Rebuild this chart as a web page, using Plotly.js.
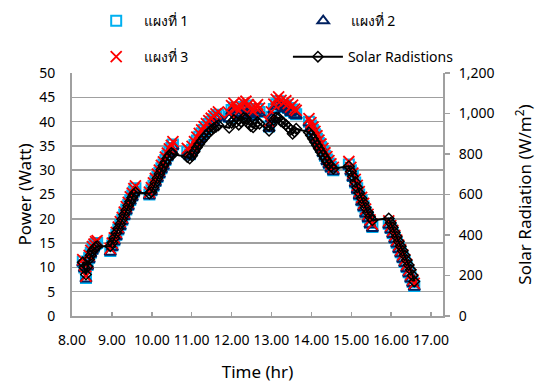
<!DOCTYPE html>
<html>
<head>
<meta charset="utf-8">
<script src="https://cdn.plot.ly/plotly-3.0.1.min.js"></script>
<style>
  html, body { margin: 0; padding: 0; background: #fff; }
  #chart { width: 549px; height: 383px; }
</style>
</head>
<body>
<div id="chart"></div>
<script>
// Measurement times (decimal hours), one block per measuring session
const time = [
  8.27, 8.31, 8.35, 8.39, 8.43, 8.47, 8.51, 8.55, 8.59, 8.63,
  8.96, 9.01, 9.06, 9.11, 9.16, 9.21, 9.26, 9.31, 9.36, 9.41, 9.46, 9.51, 9.55, 9.59,
  9.94, 9.99, 10.04, 10.09, 10.14, 10.19, 10.24, 10.29, 10.34, 10.39, 10.44, 10.49, 10.53,
  10.89, 10.95, 11.01, 11.07, 11.13, 11.19, 11.25, 11.31, 11.37, 11.43, 11.49, 11.55, 11.61, 11.67,
  11.94, 12.00, 12.06, 12.12, 12.18, 12.24, 12.30, 12.36, 12.42, 12.48, 12.54, 12.60, 12.65, 12.70,
  12.94, 13.00, 13.06, 13.12, 13.18, 13.24, 13.30, 13.36, 13.42, 13.48, 13.53, 13.58, 13.62,
  13.94, 13.99, 14.04, 14.09, 14.14, 14.19, 14.24, 14.29, 14.34, 14.39, 14.44, 14.49, 14.55,
  14.94, 14.99, 15.04, 15.10, 15.15, 15.20, 15.26, 15.31, 15.36, 15.42, 15.47, 15.53,
  15.94, 15.99, 16.04, 16.09, 16.14, 16.19, 16.24, 16.29, 16.34, 16.39, 16.44, 16.49, 16.54, 16.58
];

// Panel output power (W)
const panel1 = [
  11.2, 10.0, 7.8, 10.5, 12.0, 13.0, 13.8, 14.3, 14.8, 15.0,
  13.4, 14.5, 15.6, 16.7, 17.8, 18.8, 19.8, 20.9, 21.9, 22.9, 23.9, 24.8, 25.6, 26.3,
  25.0, 25.9, 26.8, 27.8, 28.6, 29.5, 30.4, 31.2, 32.1, 33.0, 33.8, 34.6, 35.3,
  33.8, 33.3, 34.2, 35.2, 36.1, 36.9, 37.6, 38.3, 38.9, 39.5, 40.0, 40.5, 41.0, 41.4,
  41.0, 42.4, 42.9, 42.0, 41.4, 42.2, 43.0, 43.3, 42.6, 41.8, 41.3, 42.0, 42.6, 42.0,
  39.0, 41.0, 42.6, 43.6, 44.2, 43.5, 43.0, 43.4, 42.8, 42.2, 42.5, 41.8, 41.5,
  40.0, 39.2, 38.3, 37.4, 36.5, 35.6, 34.8, 33.9, 33.0, 32.2, 31.4, 30.7, 30.0,
  31.2, 30.0, 28.8, 27.5, 26.3, 25.0, 23.8, 22.6, 21.4, 20.3, 19.2, 18.3,
  19.0, 18.1, 17.1, 16.1, 15.1, 14.1, 13.1, 12.1, 11.1, 10.1, 9.0, 8.0, 7.0, 6.2
];
const panel2 = [
  10.9, 9.7, 7.6, 10.2, 11.6, 12.7, 13.4, 14.0, 14.5, 14.7,
  13.1, 14.1, 15.3, 16.3, 17.5, 18.4, 19.5, 20.5, 21.6, 22.5, 23.6, 24.4, 25.3, 25.9,
  24.7, 25.5, 26.5, 27.4, 28.3, 29.1, 30.1, 30.8, 31.8, 32.6, 33.5, 34.2, 34.9,
  33.4, 32.9, 33.9, 34.8, 35.8, 36.5, 37.3, 37.9, 38.6, 39.1, 39.7, 40.1, 40.7, 41.0,
  40.6, 42.0, 42.5, 41.7, 41.0, 41.8, 42.7, 42.9, 42.3, 41.4, 40.9, 41.7, 42.2, 41.7,
  38.6, 40.6, 42.3, 43.2, 43.8, 43.1, 42.7, 43.0, 42.4, 41.9, 42.1, 41.4, 41.2,
  39.7, 38.8, 38.0, 37.0, 36.2, 35.2, 34.5, 33.5, 32.7, 31.8, 31.1, 30.3, 29.7,
  30.8, 29.7, 28.4, 27.2, 25.9, 24.7, 23.4, 22.3, 21.0, 20.0, 18.8, 18.0,
  18.7, 17.7, 16.8, 15.7, 14.8, 13.7, 12.8, 11.7, 10.8, 9.7, 8.7, 7.6, 6.7, 5.9
];
const panel3 = [
  11.6, 10.5, 8.2, 11.0, 12.5, 13.5, 14.3, 14.8, 15.3, 15.5,
  13.9, 15.0, 16.1, 17.2, 18.3, 19.4, 20.3, 21.4, 22.5, 23.4, 24.5, 25.3, 26.2, 26.8,
  25.5, 26.4, 27.4, 28.3, 29.2, 30.0, 31.0, 31.7, 32.7, 33.5, 34.4, 35.1, 35.9,
  34.5, 34.0, 34.9, 35.9, 36.8, 37.6, 38.3, 39.0, 39.6, 40.2, 40.7, 41.2, 41.6, 42.0,
  41.8, 43.3, 43.8, 42.9, 42.2, 43.1, 43.9, 44.2, 43.5, 42.6, 42.1, 42.9, 43.5, 42.8,
  40.0, 42.0, 43.6, 44.6, 45.1, 44.4, 43.9, 44.3, 43.7, 43.0, 43.4, 42.6, 42.3,
  40.6, 39.8, 38.9, 38.0, 37.1, 36.2, 35.4, 34.5, 33.6, 32.8, 32.0, 31.3, 30.6,
  31.8, 30.6, 29.4, 28.1, 26.9, 25.6, 24.4, 23.2, 22.0, 20.9, 19.8, 18.9,
  19.6, 18.6, 17.6, 16.6, 15.6, 14.6, 13.6, 12.6, 11.6, 10.6, 9.5, 8.5, 7.5, 6.7
];

// Solar radiation (W/m2)
const radiation = [
  265, 240, 205, 245, 280, 300, 320, 330, 340, 345,
  345, 362, 385, 410, 432, 455, 478, 500, 522, 545, 565, 585, 600, 610,
  605, 612, 635, 658, 680, 702, 722, 742, 760, 778, 792, 805, 800,
  785, 778, 792, 812, 832, 850, 866, 880, 894, 906, 917, 927, 935, 942,
  930, 955, 968, 958, 945, 960, 978, 975, 952, 938, 932, 948, 958, 950,
  915, 945, 968, 980, 978, 962, 955, 945, 932, 920, 900, 910, 925,
  907, 892, 875, 860, 843, 826, 810, 795, 780, 765, 750, 738, 728,
  740, 715, 690, 662, 635, 608, 582, 558, 535, 512, 490, 473,
  482, 460, 438, 414, 392, 368, 345, 322, 300, 276, 252, 228, 200, 170
];

const seriesNames = ['แผงที่ 1', 'แผงที่ 2', 'แผงที่ 3', 'Solar Radistions'];

const FONT = 'Noto Sans, Tahoma, sans-serif';
const GRID = '#A0A0A0';

const traces = [
  {
    x: time, y: panel1, name: seriesNames[0], type: 'scatter', mode: 'markers',
    legend: 'legend',
    marker: { symbol: 'square-open', size: 10, color: '#00B0F0', line: { width: 2, color: '#00B0F0' } }
  },
  {
    x: time, y: panel2, name: seriesNames[1], type: 'scatter', mode: 'markers',
    legend: 'legend2',
    marker: { symbol: 'triangle-up-open', size: 10, color: '#002060', line: { width: 2, color: '#002060' } }
  },
  {
    x: time, y: panel3, name: seriesNames[2], type: 'scatter', mode: 'markers',
    legend: 'legend3',
    marker: { symbol: 'x-thin-open', size: 11, color: '#FF0000', line: { width: 1.8, color: '#FF0000' } }
  },
  {
    x: time, y: radiation, name: seriesNames[3], type: 'scatter', mode: 'lines+markers',
    yaxis: 'y2', legend: 'legend4',
    line: { color: '#000000', width: 2 },
    marker: { symbol: 'diamond-open', size: 8, color: '#000000', line: { width: 1.5, color: '#000000' } }
  }
];

// Each legend entry sits in its own box so the two rows can be spaced freely
function legendAt(x, y, itemwidth) {
  return {
    x: x, y: y, xref: 'paper', yref: 'container',
    xanchor: 'left', yanchor: 'middle', orientation: 'h',
    bgcolor: 'rgba(0,0,0,0)', borderwidth: 0, itemwidth: itemwidth,
    font: { family: FONT, size: 14, color: '#000' }
  };
}

const layout = {
  width: 549, height: 383,
  margin: { l: 72, r: 106, t: 73, b: 67 },
  paper_bgcolor: '#fff', plot_bgcolor: '#fff',
  font: { family: FONT, size: 14, color: '#000' },
  showlegend: true,
  legend: legendAt(0.045, 0.945, 45),
  legend2: legendAt(0.603, 0.945, 45),
  legend3: legendAt(0.045, 0.851, 45),
  legend4: legendAt(0.582, 0.851, 50),
  xaxis: {
    range: [8, 17.3], tick0: 8, dtick: 1, tickformat: '.2f',
    showgrid: false, zeroline: false,
    showline: true, linecolor: GRID, linewidth: 2,
    ticks: 'inside', ticklen: 4, tickwidth: 1.5, tickcolor: GRID,
    ticklabelstandoff: 10,
    tickfont: { family: FONT, size: 14, color: '#000' },
    title: { text: 'Time (hr)', font: { family: FONT, size: 17, color: '#000' }, standoff: 34 }
  },
  yaxis: {
    range: [0, 50], dtick: 5,
    showgrid: true, gridcolor: GRID, gridwidth: 1.5, zeroline: false,
    showline: true, linecolor: GRID, linewidth: 2,
    ticks: '', ticklabelstandoff: 12,
    tickfont: { family: FONT, size: 14, color: '#000' },
    title: { text: 'Power (Watt)', font: { family: FONT, size: 17, color: '#000' }, standoff: 3 }
  },
  yaxis2: {
    overlaying: 'y', side: 'right',
    range: [0, 1200], dtick: 200, tickformat: ',d',
    showgrid: false, zeroline: false,
    showline: true, linecolor: GRID, linewidth: 2,
    ticks: 'outside', ticklen: 5, tickwidth: 1.5, tickcolor: GRID,
    ticklabelstandoff: 6,
    tickfont: { family: FONT, size: 14, color: '#000' },
    title: { text: 'Solar Radiation (W/m<sup>2</sup>)', font: { family: FONT, size: 17, color: '#000' }, standoff: 26 }
  }
};

Plotly.newPlot('chart', traces, layout, { staticPlot: true, displayModeBar: false });
</script>
</body>
</html>
